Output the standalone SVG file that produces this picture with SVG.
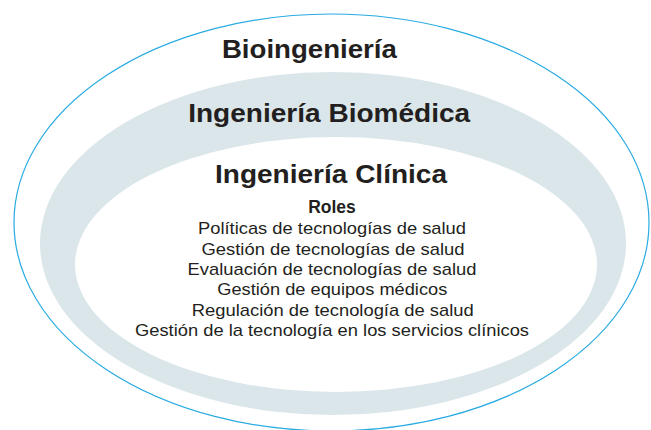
<svg xmlns="http://www.w3.org/2000/svg" width="651" height="430" viewBox="0 0 651 430">
  <style>
    .title { font-family: "Liberation Sans", Arial, sans-serif; font-weight: bold; font-size: 26px; fill: #231f20; text-anchor: middle; }
    .roles { font-family: "Liberation Sans", Arial, sans-serif; font-weight: bold; font-size: 17.5px; fill: #231f20; text-anchor: middle; }
    .item { font-family: "Liberation Sans", Arial, sans-serif; font-size: 17px; fill: #231f20; text-anchor: middle; }
  </style>
  <rect x="0" y="0" width="651" height="430" fill="#ffffff"/>
  <g id="bioingenieria">
    <ellipse cx="331.5" cy="222.5" rx="317.5" ry="208.5" fill="#ffffff" stroke="#29abe2" stroke-width="1.2"/>
    <text class="title" x="309.4" y="58" textLength="175" lengthAdjust="spacingAndGlyphs">Bioingeniería</text>
  </g>
  <g id="ingenieria-biomedica">
    <ellipse cx="333" cy="243.5" rx="293" ry="171.5" fill="#dae6ea"/>
    <text class="title" x="329.2" y="122" textLength="282" lengthAdjust="spacingAndGlyphs">Ingeniería Biomédica</text>
  </g>
  <g id="ingenieria-clinica">
    <ellipse cx="336" cy="264.5" rx="261" ry="127.5" fill="#ffffff"/>
    <text class="title" x="331" y="182.5" textLength="232" lengthAdjust="spacingAndGlyphs">Ingeniería Clínica</text>
    <text class="roles" x="332" y="212.7">Roles</text>
    <text class="item" x="332" y="234.3" textLength="268" lengthAdjust="spacingAndGlyphs">Políticas de tecnologías de salud</text>
    <text class="item" x="333" y="254.6" textLength="263" lengthAdjust="spacingAndGlyphs">Gestión de tecnologías de salud</text>
    <text class="item" x="332" y="274.9" textLength="289" lengthAdjust="spacingAndGlyphs">Evaluación de tecnologías de salud</text>
    <text class="item" x="332.3" y="295.2" textLength="230" lengthAdjust="spacingAndGlyphs">Gestión de equipos médicos</text>
    <text class="item" x="332.8" y="315.5" textLength="282" lengthAdjust="spacingAndGlyphs">Regulación de tecnología de salud</text>
    <text class="item" x="332" y="335.8" textLength="394" lengthAdjust="spacingAndGlyphs">Gestión de la tecnología en los servicios clínicos</text>
  </g>
  <g id="connectors"/>
</svg>
